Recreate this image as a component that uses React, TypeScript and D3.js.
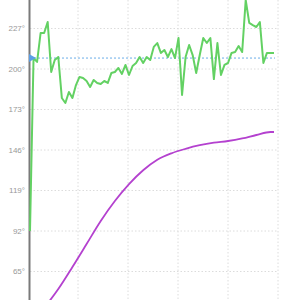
import React, { useEffect, useRef } from "react";
import * as d3 from "d3";

// temperature ticks shown on the left
const tempTicks = [65, 92, 119, 146, 173, 200, 227];

// measured temperature, one reading per step
const greenTemps = [
  92, 207.3, 204.7, 224, 224, 231.3, 198, 206, 208, 180.7,
  177.3, 184.7, 180.7, 189.3, 194.7, 194, 192, 188, 192.7, 190.7,
  190, 192, 190.7, 197.3, 198, 200.7, 196.7, 202.7, 196, 202,
  204, 208, 204, 208, 206, 214.7, 217.3, 210.7, 212.7, 208,
  213.3, 207.3, 220.7, 182.7, 208, 216, 209.3, 197.3, 209.3, 220.7,
  217.3, 220.7, 193.3, 217.3, 196, 202.7, 204, 210.7, 211.3, 215.3,
  211.3, 246, 230.7, 229.3, 228, 231.3, 204, 210.7, 210.7, 210.7,
];

// second (smoothed) curve, sampled at some steps
const purpleSteps = [4, 8, 12, 16, 20, 24, 28, 32, 36, 40, 44, 48, 52, 56, 60, 64, 68, 69];
const purpleTemps = [
  40.7, 53.3, 68, 83.3, 98.7, 112, 123.3, 132.5, 139.5, 143.8,
  146.8, 149.2, 150.9, 152, 153.7, 156, 158, 158,
];

// target line
const targetTemp = 207.3;

const App: React.FC = () => {
  const svgRef = useRef(null);

  useEffect(() => {
    const w = 300;
    const h = 300;
    const svg = d3.select(svgRef.current).attr("width", w).attr("height", h);

    const yScale = d3.scaleLinear().domain([65, 227]).range([271.5, 28.5]);
    const xScale = d3
      .scaleLinear()
      .domain([0, greenTemps.length - 1])
      .range([30, 274]);
    const gridScale = d3.scaleLinear().domain([0, 5]).range([28, 278]);

    // grid
    svg
      .append("g")
      .selectAll("line")
      .data(tempTicks)
      .enter()
      .append("line")
      .attr("x1", 30)
      .attr("x2", gridScale(5))
      .attr("y1", (d) => yScale(d))
      .attr("y2", (d) => yScale(d))
      .style("stroke", "#dcdcdc")
      .style("stroke-dasharray", "1.5,2");

    svg
      .append("g")
      .selectAll("line")
      .data(d3.range(1, 6))
      .enter()
      .append("line")
      .attr("x1", (d) => gridScale(d))
      .attr("x2", (d) => gridScale(d))
      .attr("y1", 0)
      .attr("y2", h)
      .style("stroke", "#dcdcdc")
      .style("stroke-dasharray", "1.5,2");

    // tick labels
    svg
      .append("g")
      .selectAll("text")
      .data(tempTicks)
      .enter()
      .append("text")
      .attr("x", 25)
      .attr("y", (d) => yScale(d))
      .attr("dy", "0.35em")
      .attr("text-anchor", "end")
      .style("font-family", "Liberation Sans, Arial, sans-serif")
      .style("font-size", "8px")
      .style("fill", "#999")
      .text((d) => d + "°");

    // axis
    svg
      .append("line")
      .attr("x1", 29.5)
      .attr("x2", 29.5)
      .attr("y1", 0)
      .attr("y2", h)
      .style("stroke", "#7a7a7a")
      .style("stroke-width", 2);

    // target
    svg
      .append("line")
      .attr("x1", 30)
      .attr("x2", 275)
      .attr("y1", yScale(targetTemp))
      .attr("y2", yScale(targetTemp))
      .style("stroke", "#6aaee8")
      .style("stroke-width", 1)
      .style("stroke-dasharray", "2,2");

    // purple curve
    const purpleLine = d3
      .line<number>()
      .x((d, i) => xScale(purpleSteps[i]))
      .y((d) => yScale(d))
      .curve(d3.curveMonotoneX);
    svg
      .append("path")
      .attr("d", purpleLine(purpleTemps))
      .style("fill", "none")
      .style("stroke", "#b441cf")
      .style("stroke-width", 1.8);

    // green readings
    const greenLine = d3
      .line<number>()
      .x((d, i) => xScale(i))
      .y((d) => yScale(d));
    svg
      .append("path")
      .attr("d", greenLine(greenTemps))
      .style("fill", "none")
      .style("stroke", "#63d163")
      .style("stroke-width", 2)
      .style("stroke-linejoin", "round");

    // target marker
    const ty = yScale(targetTemp);
    svg
      .append("path")
      .attr("d", `M29,${ty - 4}L36,${ty}L29,${ty + 4}Z`)
      .style("fill", "#5b9ee6");

    return () => {
      svg.selectAll("*").remove();
    };
  }, []);

  return (
    <svg
      ref={svgRef}
      style={{ position: "absolute", left: 0, top: 0, background: "#fff" }}
    />
  );
};

export default App;
